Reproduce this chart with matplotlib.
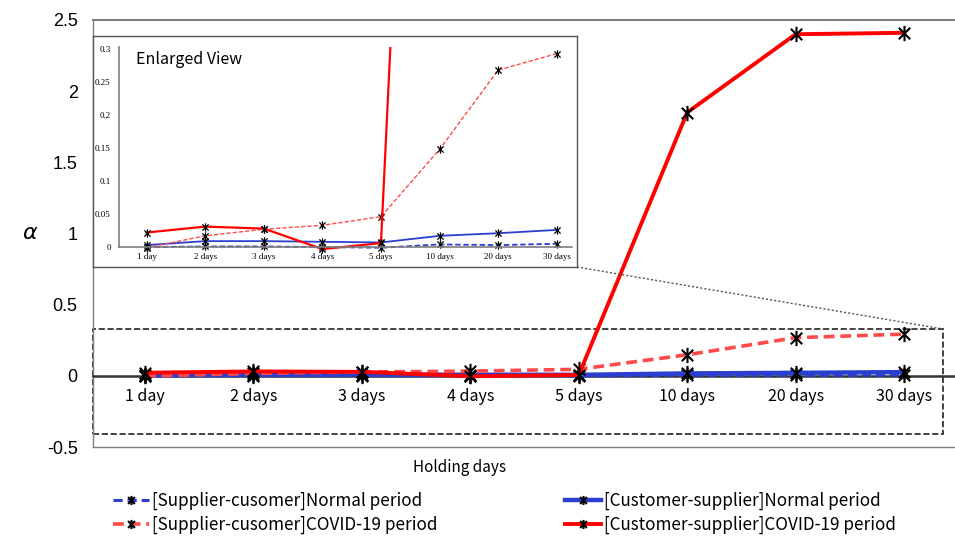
import matplotlib
matplotlib.use("Agg")
import matplotlib.pyplot as plt
from matplotlib.path import Path
from matplotlib.patches import Rectangle
from matplotlib.lines import Line2D

# ---- data ---------------------------------------------------------------
days = ["1 day", "2 days", "3 days", "4 days", "5 days", "10 days", "20 days", "30 days"]
sc_normal = [0.000, 0.001, 0.001, 0.000, -0.001, 0.004, 0.003, 0.005]
sc_covid = [-0.001, 0.017, 0.027, 0.033, 0.046, 0.148, 0.268, 0.293]
cs_normal = [0.003, 0.009, 0.009, 0.008, 0.007, 0.017, 0.021, 0.026]
cs_covid = [0.022, 0.031, 0.028, -0.003, 0.006, 1.85, 2.40, 2.41]
main_yticks = [-0.5, 0, 0.5, 1, 1.5, 2, 2.5]
inset_yticks = [0, 0.05, 0.1, 0.15, 0.2, 0.25, 0.3]

BLUE = "#2a3fd0"
RED = "#ff0000"
LRED = "#ff4a4a"
GRAY = "#7f7f7f"
GOTHIC = ["Noto Sans CJK JP", "DejaVu Sans"]

plt.rcParams["axes.unicode_minus"] = False

# excel-like star marker: X with a vertical bar
STAR = Path([(0, -1), (0, 1), (-0.75, -0.75), (0.75, 0.75), (-0.75, 0.75), (0.75, -0.75)],
            [Path.MOVETO, Path.LINETO, Path.MOVETO, Path.LINETO, Path.MOVETO, Path.LINETO])

series = [
    # values, colour, linestyle, main lw, inset lw
    (sc_normal, BLUE, "--", 2.2, 1.3),
    (cs_normal, BLUE, "-", 3.2, 1.3),
    (sc_covid, LRED, "--", 2.6, 1.0),
    (cs_covid, RED, "-", 2.8, 1.6),
]
labels = ["[Supplier-cusomer]Normal period", "[Customer-supplier]Normal period",
          "[Supplier-cusomer]COVID-19 period", "[Customer-supplier]COVID-19 period"]

W, H = 955, 540
fig = plt.figure(figsize=(W / 100, H / 100), dpi=100)
fig.patch.set_facecolor("white")

# ---- main axes -----------------------------------------------------------
ax = fig.add_axes([93 / W, 1 - 447 / H, (955 - 93) / W, (447 - 20) / H])
x = list(range(len(days)))
handles = []
for vals, c, ls, lw, _ in series:
    h, = ax.plot(x, vals, color=c, linestyle=ls, linewidth=lw, marker=STAR,
                 markersize=11, markeredgecolor="black", markeredgewidth=1.5,
                 dashes=(3, 1.6) if ls == "--" else (None, None), zorder=3)
    handles.append(h)

ax.set_xlim(-0.48, 7.47)
ax.set_ylim(-0.5, 2.5)
ax.set_yticks(main_yticks)
ax.set_yticklabels([f"{v:g}" for v in main_yticks], family="Liberation Sans", fontsize=13)
ax.tick_params(axis="y", length=0, pad=11)
ax.spines["right"].set_visible(False)
ax.spines["top"].set_color(GRAY)
ax.spines["top"].set_linewidth(1.5)
ax.spines["left"].set_color(GRAY)
ax.spines["left"].set_linewidth(1.0)
ax.spines["bottom"].set_position(("data", 0))
ax.spines["bottom"].set_color("#333333")
ax.spines["bottom"].set_linewidth(1.8)
ax.set_xticks(x)
ax.set_xticklabels(days, family=GOTHIC, fontsize=11.5)
ax.tick_params(axis="x", length=0, pad=9)
ax.axhline(-0.5, color=GRAY, linewidth=1.0, clip_on=False)

# dashed zoom region
ax.add_patch(Rectangle((-0.48, -0.407), 7.84, 0.737, fill=False, linestyle="--",
                       edgecolor="#222222", linewidth=1.2, clip_on=False, zorder=2))

# ---- inset frame + inset axes -------------------------------------------
frame = fig.add_axes([93 / W, 1 - 267 / H, (577 - 93) / W, (267 - 36) / H])
frame.set_xticks([]); frame.set_yticks([])
for s in frame.spines.values():
    s.set_color("#555555"); s.set_linewidth(1.0)
frame.set_facecolor("white")

axi = fig.add_axes([119 / W, 1 - 255 / H, (572 - 119) / W, (255 - 47) / H])
axi.patch.set_alpha(0)
for vals, c, ls, _, lw in series:
    axi.plot(x, vals, color=c, linestyle=ls, linewidth=lw, marker=STAR,
             markersize=6, markeredgecolor="black", markeredgewidth=0.9,
             dashes=(3, 1.5) if ls == "--" else (None, None))
axi.set_xlim(-0.47, 7.26)
axi.set_ylim(-0.012, 0.303)
axi.spines["right"].set_visible(False)
axi.spines["top"].set_visible(False)
axi.spines["bottom"].set_position(("data", 0))
axi.spines["left"].set_bounds(0, 0.303)
for s in ("left", "bottom"):
    axi.spines[s].set_color(GRAY)
    axi.spines[s].set_linewidth(1.2)
axi.set_xticks(x)
axi.set_xticklabels(days, family="Liberation Serif", fontsize=6.5)
axi.set_yticks(inset_yticks)
axi.set_yticklabels([f"{v:g}" for v in inset_yticks], family="Liberation Serif", fontsize=6.5)
axi.tick_params(length=0)
axi.tick_params(axis="y", pad=6)
axi.tick_params(axis="x", pad=4)

fig.text(136 / W, 1 - 60 / H, "Enlarged View", family=GOTHIC, fontsize=11.5,
         ha="left", va="center")

# dotted connector from inset corner to zoom box corner
fig.add_artist(Line2D([577 / W, 943 / W], [1 - 267 / H, 1 - 329 / H],
                      color="#555555", linewidth=1.0, linestyle=(0, (1.5, 1.5))))

# ---- labels & legends ---------------------------------------------------
fig.text(30 / W, 1 - 233 / H, r"$\alpha$", fontsize=16, ha="center", va="center")
fig.text(460 / W, 1 - 468 / H, "Holding days", family=GOTHIC, fontsize=11,
         ha="center", va="center")

for idx, xa in ((0, 113), (1, 565)):
    hs = [handles[idx], handles[idx + 2]]
    ls_ = [labels[idx], labels[idx + 2]]
    leg = fig.legend(hs, ls_, loc="center left", bbox_to_anchor=(xa / W, 1 - 513 / H),
                     frameon=False, prop={"family": GOTHIC, "size": 12.3},
                     handlelength=2.1, handletextpad=0.2, labelspacing=0.3,
                     borderpad=0, borderaxespad=0, markerscale=0.6)

fig.savefig("out.png", dpi=100)
